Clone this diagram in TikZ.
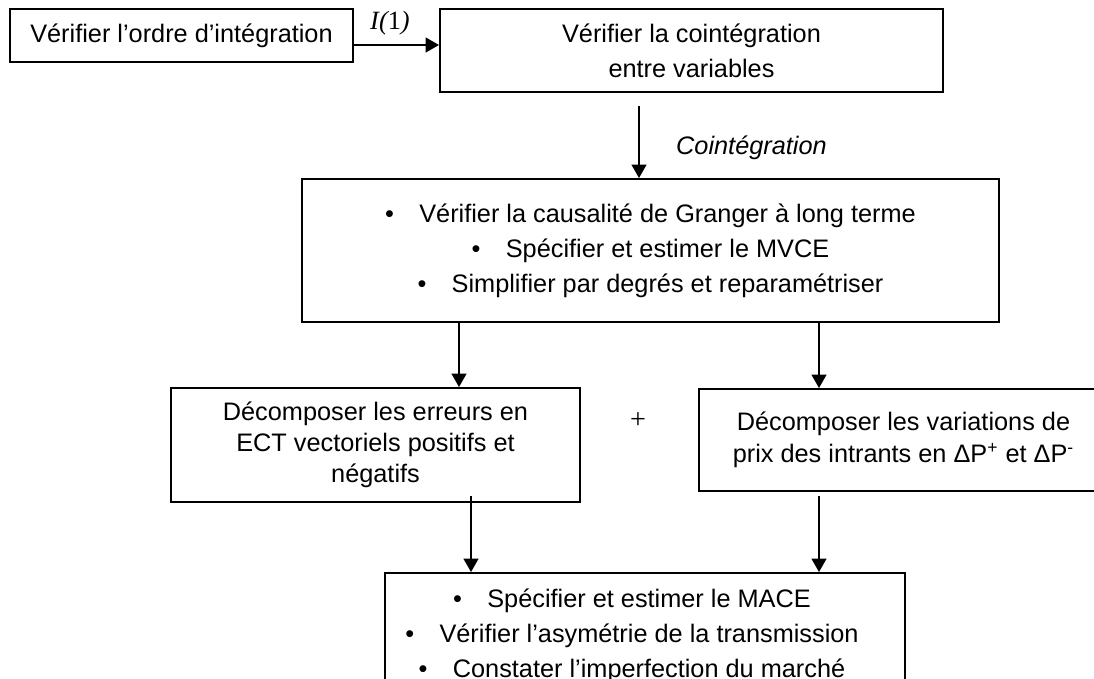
\documentclass[tikz,border=0pt]{standalone}
\usepackage{fontspec}
\setmainfont{Liberation Sans}
\newfontfamily\timesfont{Liberation Serif}
\usetikzlibrary{arrows.meta,positioning,calc}
\newcommand{\puce}{\textbullet\hspace{1em}}

\begin{document}
\begin{tikzpicture}[
      every node/.style={font=\fontsize{14.4}{19.9}\selectfont},
      boite/.style={draw, line width=1.1pt, align=center, inner sep=0pt},
      fleche/.style={line width=0.9pt, -{Triangle[length=0.27cm, width=0.3cm]}},
      lien/.style={font=\fontsize{14.4}{16}\selectfont\itshape}
    ]
    \useasboundingbox (0,0) rectangle (21.88,-13.58);
    \node[boite, minimum width=6.86cm, minimum height=1.06cm] (ordre) at (3.63,-0.71) {Vérifier l'ordre d'intégration};
    \node[boite, minimum width=10.06cm, minimum height=1.66cm] (coint) at (13.83,-1.01) {Vérifier la cointégration\\entre variables};
    \node[boite, minimum width=13.94cm, minimum height=2.86cm] (granger) at (13.01,-5.01)
      {\puce Vérifier la causalité de Granger à long terme\\\puce Spécifier et estimer le MVCE\\\puce Simplifier par degrés et reparamétriser};
    \node[boite, minimum width=8.18cm, minimum height=2.28cm, font=\fontsize{14.4}{17.8}\selectfont] (erreurs) at (7.51,-8.90)
      {Décomposer les erreurs en\\ECT vectoriels positifs et\\négatifs};
    \node[boite, minimum width=8.18cm, minimum height=2.04cm, font=\fontsize{14.4}{18.2}\selectfont] (prix) at (18.07,-8.80)
      {Décomposer les variations de\\prix des intrants en ΔP\textsuperscript{+} et ΔP\textsuperscript{-}};
    \node[boite, minimum width=10.40cm, minimum height=2.54cm] (mace) at (12.90,-12.73) {};
    \node[align=center] (macetxt) at ($(mace.center)+(-0.26,0.02)$)
      {\puce Spécifier et estimer le MACE\\\puce Vérifier l'asymétrie de la transmission\\\puce Constater l'imperfection du marché};
    \node[font=\timesfont\fontsize{15}{16}\selectfont] (ordrelab) at (7.80,-0.46) {\itshape I(\upshape 1\itshape )};
    \node[lien, anchor=west] (cointlab) at (13.40,-2.96) {Cointégration};
    \node[font=\timesfont\fontsize{16}{16}\selectfont] (plus) at (12.76,-8.42) {+};
    \coordinate (yordre) at (0,-0.90);
    \coordinate (xcoint) at (12.78,0);
    \coordinate (xgauche) at (9.18,0);
    \coordinate (xdroite) at (16.38,0);
    \coordinate (xbas) at (9.42,0);
    \draw[fleche] (ordre.east |- yordre) -- (coint.west |- yordre);
    \draw[fleche, shorten <=0.26cm] (coint.south -| xcoint) -- (granger.north -| xcoint);
    \draw[fleche] (granger.south -| xgauche) -- (erreurs.north -| xgauche);
    \draw[fleche] (granger.south -| xdroite) -- (prix.north -| xdroite);
    \draw[fleche, shorten <=-0.14cm] (erreurs.south -| xbas) -- (mace.north -| xbas);
    \draw[fleche, shorten <=0.08cm] (prix.south -| xdroite) -- (mace.north -| xdroite);
  \end{tikzpicture}
\end{document}
